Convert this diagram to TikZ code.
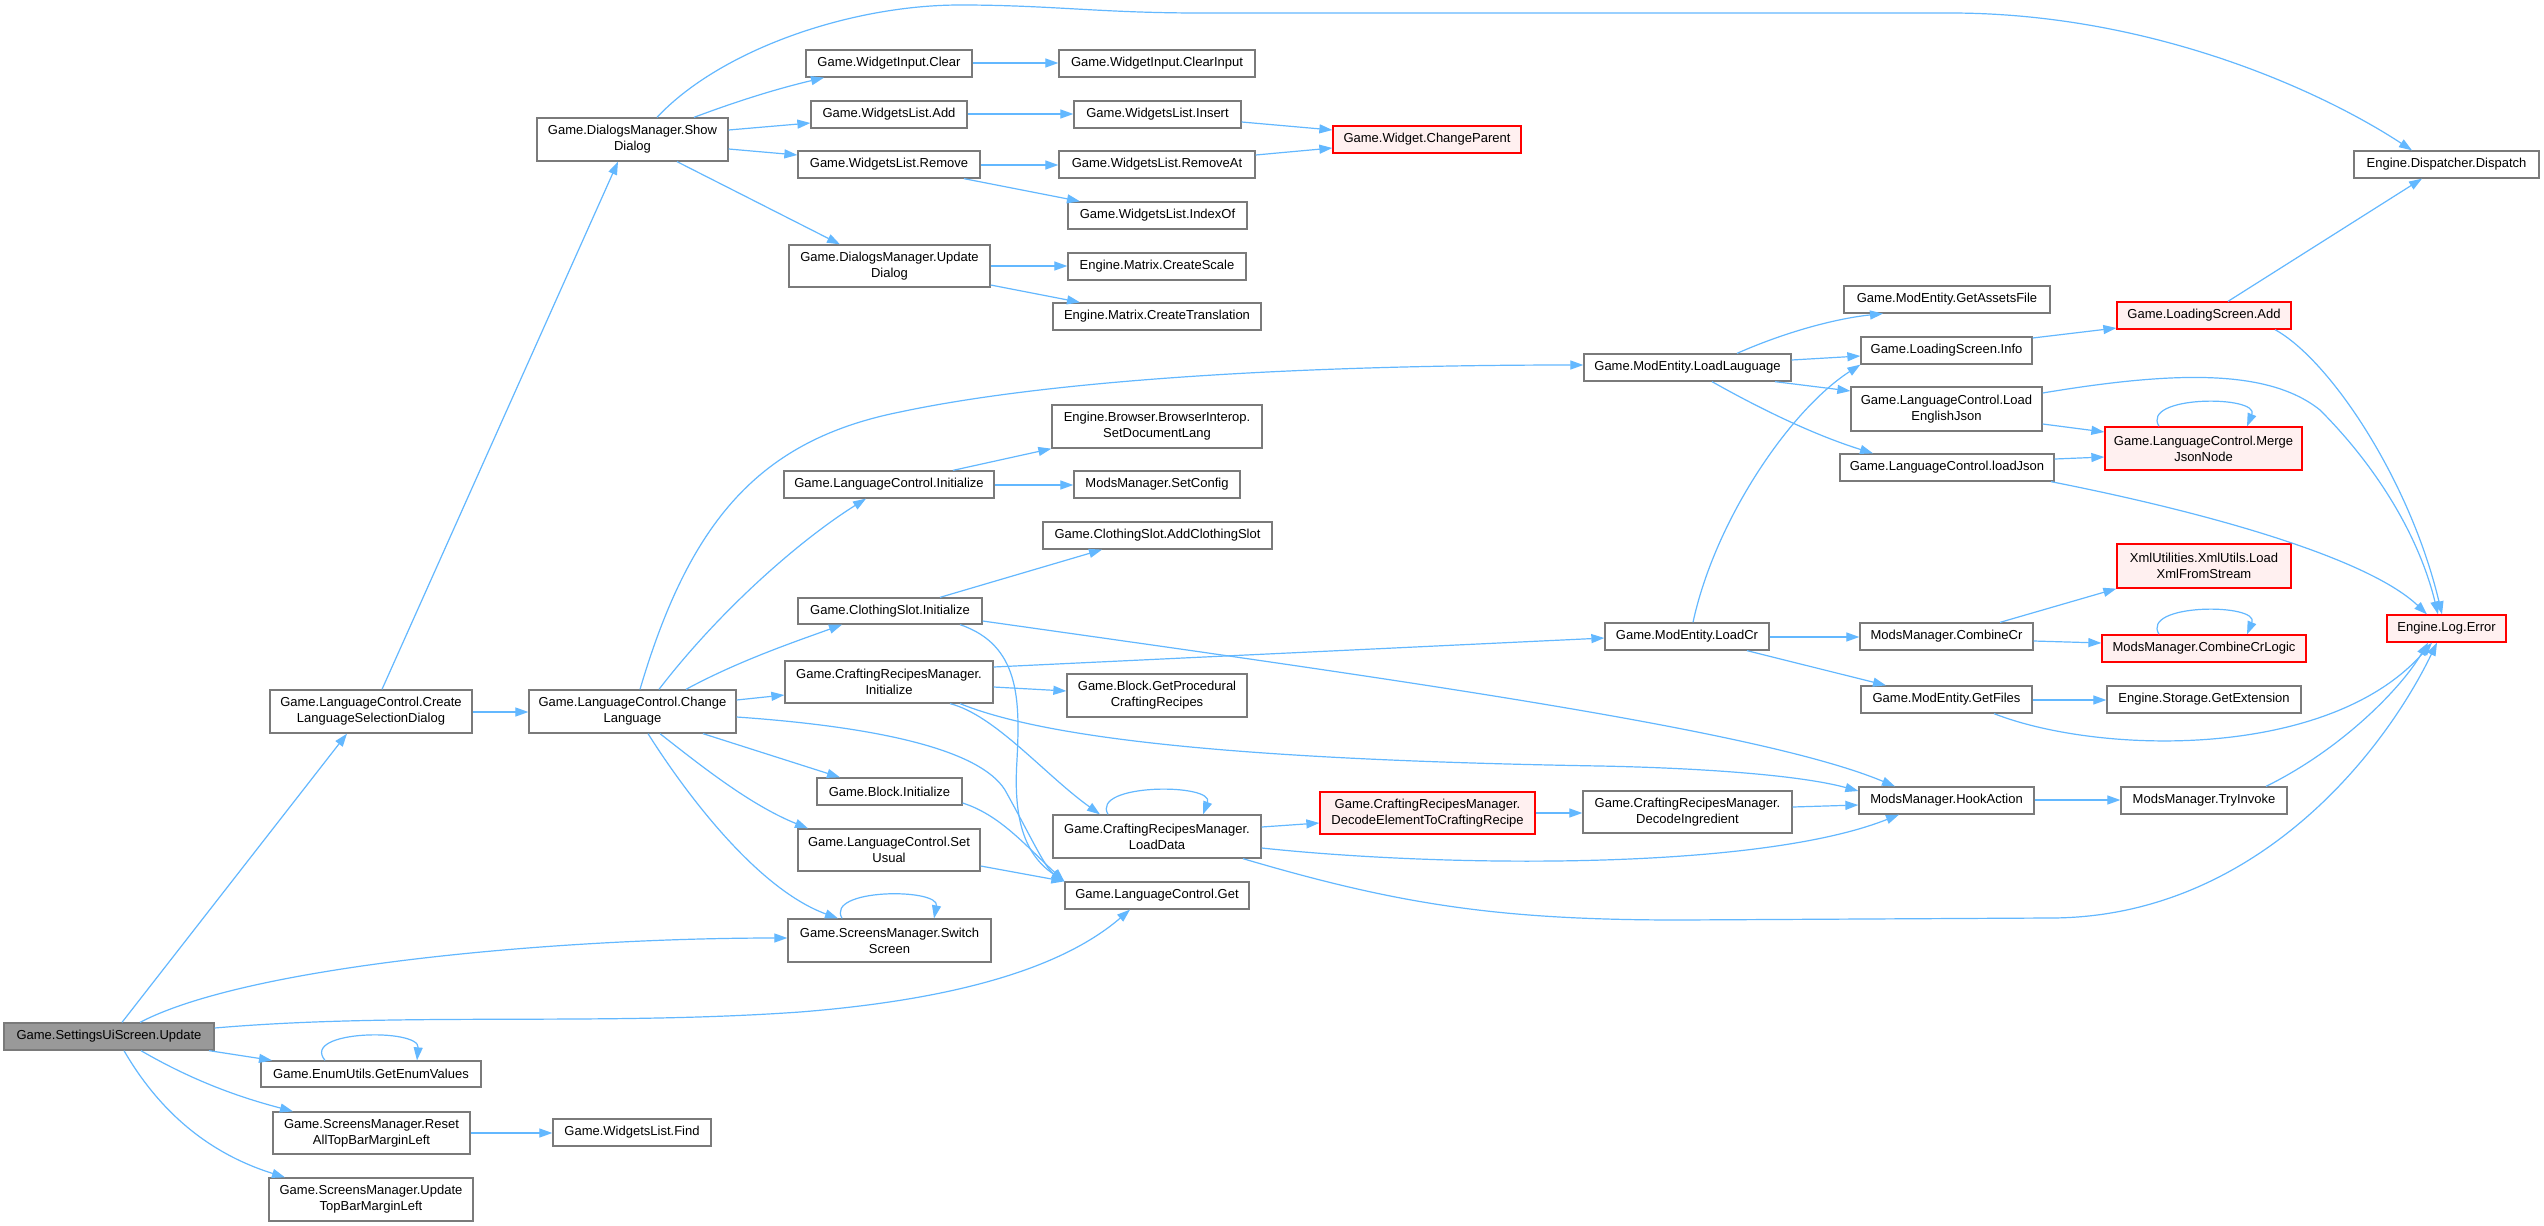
\documentclass[tikz,border=0pt]{standalone}
\usepackage{fontspec}
\setmainfont{Liberation Sans}
\usetikzlibrary{arrows.meta}
\definecolor{edgeblue}{HTML}{63B8FF}
\definecolor{boxgray}{HTML}{7A7A7A}
\definecolor{rootfill}{HTML}{999999}
\definecolor{redfill}{HTML}{FFF0F0}
\tikzset{
  fn/.style={draw=boxgray, line width=1.3pt, fill=white, inner sep=0pt, align=center, font=\fontsize{13}{16}\selectfont},
  rootfn/.style={fn, fill=rootfill},
  redfn/.style={fn, draw=red, fill=redfill},
  e/.style={draw=edgeblue, line width=1.2pt, -{Triangle[length=13pt,width=9pt]}},
}
\newcommand\mk[7]{\node[#1, minimum width={(#5-#3)*1pt}, minimum height={(#6-#4)*1pt}] (#2) at ({(#3+#5)/2},{(#4+#6)/2}) {#7};}
\begin{document}
\begin{tikzpicture}[x=1pt,y=-1pt]
\useasboundingbox (0,0) rectangle (2544,1226);
\fill[white] (0,0) rectangle (2544,1226);
% nodes
\mk{rootfn}{U}{4}{1023}{214}{1050}{Game.SettingsUiScreen.Update}
\mk{fn}{CLSD}{270}{690}{472}{733}{Game.LanguageControl.Create\\LanguageSelectionDialog}
\mk{fn}{EV}{261}{1061}{481}{1087}{Game.EnumUtils.GetEnumValues}
\mk{fn}{RA}{273}{1112}{470}{1154}{Game.ScreensManager.Reset\\AllTopBarMarginLeft}
\mk{fn}{UT}{269}{1178}{473}{1221}{Game.ScreensManager.Update\\TopBarMarginLeft}
\mk{fn}{FIND}{553}{1119}{711}{1146}{Game.WidgetsList.Find}
\mk{fn}{CL}{529}{690}{736}{733}{Game.LanguageControl.Change\\Language}
\mk{fn}{SD}{537}{118}{728}{161}{Game.DialogsManager.Show\\Dialog}
\mk{fn}{WIC}{806}{50}{972}{77}{Game.WidgetInput.Clear}
\mk{fn}{WICI}{1059}{50}{1255}{77}{Game.WidgetInput.ClearInput}
\mk{fn}{WLA}{811}{101}{967}{128}{Game.WidgetsList.Add}
\mk{fn}{WLI}{1074}{101}{1241}{128}{Game.WidgetsList.Insert}
\mk{redfn}{WCP}{1333}{126}{1521}{153}{Game.Widget.ChangeParent}
\mk{fn}{WLR}{798}{151}{980}{178}{Game.WidgetsList.Remove}
\mk{fn}{WLRA}{1059}{151}{1255}{178}{Game.WidgetsList.RemoveAt}
\mk{fn}{WLIO}{1068}{202}{1247}{229}{Game.WidgetsList.IndexOf}
\mk{fn}{UD}{789}{245}{990}{287}{Game.DialogsManager.Update\\Dialog}
\mk{fn}{MCS}{1068}{253}{1246}{280}{Engine.Matrix.CreateScale}
\mk{fn}{MCT}{1053}{303}{1261}{330}{Engine.Matrix.CreateTranslation}
\mk{fn}{DISP}{2354}{151}{2539}{178}{Engine.Dispatcher.Dispatch}
\mk{fn}{GAF}{1844}{286}{2050}{313}{Game.ModEntity.GetAssetsFile}
\mk{redfn}{LSA}{2117}{302}{2291}{329}{Game.LoadingScreen.Add}
\mk{fn}{LSI}{1861}{337}{2032}{364}{Game.LoadingScreen.Info}
\mk{fn}{LL}{1584}{354}{1791}{381}{Game.ModEntity.LoadLauguage}
\mk{fn}{LEJ}{1851}{387}{2042}{431}{Game.LanguageControl.Load\\EnglishJson}
\mk{redfn}{MJN}{2105}{427}{2302}{470}{Game.LanguageControl.Merge\\JsonNode}
\mk{fn}{LJ}{1840}{454}{2054}{481}{Game.LanguageControl.loadJson}
\mk{fn}{BSDL}{1052}{405}{1262}{448}{Engine.Browser.BrowserInterop.\\SetDocumentLang}
\mk{fn}{LCI}{784}{471}{994}{498}{Game.LanguageControl.Initialize}
\mk{fn}{SC}{1074}{471}{1240}{498}{ModsManager.SetConfig}
\mk{fn}{ACS}{1043}{522}{1272}{549}{Game.ClothingSlot.AddClothingSlot}
\mk{fn}{CSI}{798}{598}{982}{624}{Game.ClothingSlot.Initialize}
\mk{redfn}{XML}{2117}{544}{2291}{588}{XmlUtilities.XmlUtils.Load\\XmlFromStream}
\mk{fn}{LCR}{1605}{623}{1769}{650}{Game.ModEntity.LoadCr}
\mk{fn}{CCR}{1860}{623}{2033}{650}{ModsManager.CombineCr}
\mk{redfn}{CCL}{2102}{635}{2306}{662}{ModsManager.CombineCrLogic}
\mk{redfn}{LE}{2387}{615}{2506}{642}{Engine.Log.Error}
\mk{fn}{CRMI}{785}{661}{993}{703}{Game.CraftingRecipesManager.\\Initialize}
\mk{fn}{GPCR}{1067}{674}{1247}{717}{Game.Block.GetProcedural\\CraftingRecipes}
\mk{fn}{GF}{1861}{686}{2032}{713}{Game.ModEntity.GetFiles}
\mk{fn}{GE}{2107}{686}{2301}{713}{Engine.Storage.GetExtension}
\mk{fn}{BI}{817}{778}{962}{805}{Game.Block.Initialize}
\mk{fn}{HA}{1859}{787}{2034}{814}{ModsManager.HookAction}
\mk{fn}{TI}{2121}{787}{2287}{814}{ModsManager.TryInvoke}
\mk{redfn}{DETCR}{1320}{792}{1535}{834}{Game.CraftingRecipesManager.\\DecodeElementToCraftingRecipe}
\mk{fn}{DI}{1583}{791}{1792}{833}{Game.CraftingRecipesManager.\\DecodeIngredient}
\mk{fn}{LD}{1053}{815}{1261}{858}{Game.CraftingRecipesManager.\\LoadData}
\mk{fn}{SU}{798}{829}{980}{871}{Game.LanguageControl.Set\\Usual}
\mk{fn}{GET}{1065}{882}{1249}{909}{Game.LanguageControl.Get}
\mk{fn}{SS}{788}{919}{991}{962}{Game.ScreensManager.Switch\\Screen}
% edges from Update
\draw[e] (U.north -| 122,0) -- (CLSD.south -| 347,0);
\draw[e] (U.north -| 140,0) .. controls (250,965) and (560,938) .. (SS.west |- 0,938);
\draw[e] (U.east |- 0,1028) .. controls (400,1012) and (600,1026) .. (800,1012) .. controls (950,1000) and (1060,970) .. (GET.south -| 1130,0);
\draw[e] (U.south -| 209,0) -- (EV.north -| 272,0);
\draw[e] (U.south -| 141,0) .. controls (200,1085) and (250,1100) .. (RA.north -| 293,0);
\draw[e] (U.south -| 124,0) .. controls (170,1130) and (230,1160) .. (UT.north -| 285,0);
\draw[e] (EV.north -| 325,0) .. controls (300,1030) and (420,1028) .. (EV.north -| 417,0);
\draw[e] (RA.east |- 0,1133) -- (FIND.west |- 0,1133);
% CreateLanguageSelectionDialog
\draw[e] (CLSD.east |- 0,712) -- (CL.west |- 0,712);
\draw[e] (CLSD.north -| 382,0) -- (SD.south -| 618,0);
% ShowDialog
\draw[e] (SD.north -| 657,0) .. controls (720,50) and (850,5) .. (960,5) .. controls (1050,5) and (1100,13) .. (1200,13) -- (1950,13) .. controls (2150,13) and (2320,90) .. (DISP.north -| 2412,0);
\draw[e] (SD.north -| 694,0) .. controls (740,100) and (780,88) .. (WIC.south -| 824,0);
\draw[e] (SD.east |- 0,130) -- (WLA.west |- 0,123);
\draw[e] (SD.east |- 0,149) -- (WLR.west |- 0,155);
\draw[e] (SD.south -| 677,0) -- (UD.north -| 840,0);
\draw[e] (WIC.east |- 0,63) -- (WICI.west |- 0,63);
\draw[e] (WLA.east |- 0,114) -- (WLI.west |- 0,114);
\draw[e] (WLI.east |- 0,122) -- (WCP.west |- 0,130);
\draw[e] (WLRA.east |- 0,155) -- (WCP.west |- 0,148);
\draw[e] (WLR.east |- 0,165) -- (WLRA.west |- 0,165);
\draw[e] (WLR.south -| 964,0) -- (WLIO.north -| 1080,0);
\draw[e] (UD.east |- 0,266) -- (MCS.west |- 0,266);
\draw[e] (UD.east |- 0,285) -- (MCT.north -| 1080,0);
% ChangeLanguage
\draw[e] (CL.north -| 640,0) .. controls (690,520) and (760,440) .. (900,412) .. controls (1050,380) and (1300,365) .. (LL.west |- 0,365);
\draw[e] (CL.north -| 659,0) .. controls (720,610) and (800,540) .. (LCI.south -| 866,0);
\draw[e] (CL.north -| 686,0) .. controls (740,660) and (800,640) .. (CSI.south -| 842,0);
\draw[e] (CL.east |- 0,700) -- (CRMI.west |- 0,695);
\draw[e] (CL.east |- 0,717) .. controls (880,727) and (980,750) .. (1005,790) .. controls (1030,835) and (1045,868) .. (GET.north west);
\draw[e] (CL.south -| 703,0) -- (BI.north -| 840,0);
\draw[e] (CL.south -| 660,0) .. controls (700,765) and (750,805) .. (SU.north -| 808,0);
\draw[e] (CL.south -| 648,0) .. controls (690,800) and (760,890) .. (SS.north -| 838,0);
\draw[e] (SS.north -| 842,0) .. controls (825,888) and (940,888) .. (SS.north -| 934,0);
% LanguageControl.Initialize, ClothingSlot.Initialize
\draw[e] (LCI.north -| 953,0) -- (BSDL.south west);
\draw[e] (LCI.east |- 0,485) -- (SC.west |- 0,485);
\draw[e] (CSI.north -| 940,0) -- (ACS.south -| 1102,0);
\draw[e] (CSI.east |- 0,621) .. controls (1400,680) and (1760,730) .. (HA.north -| 1895,0);
\draw[e] (CSI.south -| 960,0) .. controls (1020,645) and (1020,700) .. (1017,760) .. controls (1013,820) and (1025,855) .. (GET.north west);
% CraftingRecipesManager.Initialize
\draw[e] (CRMI.east |- 0,667) -- (LCR.west |- 0,638);
\draw[e] (CRMI.east |- 0,687) -- (GPCR.west |- 0,691);
\draw[e] (CRMI.south -| 960,0) .. controls (1050,740) and (1250,760) .. (1600,766) .. controls (1700,768) and (1800,775) .. (HA.west |- 0,791);
\draw[e] (CRMI.south -| 950,0) .. controls (995,715) and (1045,775) .. (LD.north -| 1100,0);
\draw[e] (BI.east |- 0,803) .. controls (1000,815) and (1025,845) .. (GET.north west);
\draw[e] (SU.east |- 0,866) -- (GET.north west);
% LoadData
\draw[e] (LD.north -| 1108,0) .. controls (1090,783) and (1215,783) .. (LD.north -| 1203,0);
\draw[e] (LD.east |- 0,827) -- (DETCR.west |- 0,823);
\draw[e] (LD.east |- 0,848) .. controls (1450,868) and (1760,870) .. (HA.south -| 1899,0);
\draw[e] (LD.south -| 1243,0) .. controls (1400,905) and (1500,920) .. (1680,920) -- (2050,918) .. controls (2250,918) and (2380,760) .. (LE.south -| 2437,0);
\draw[e] (DETCR.east |- 0,813) -- (DI.west |- 0,813);
\draw[e] (DI.east |- 0,807) -- (HA.west |- 0,805);
\draw[e] (HA.east |- 0,800) -- (TI.west |- 0,800);
\draw[e] (TI.north -| 2266,0) .. controls (2340,750) and (2400,690) .. (LE.south -| 2428,0);
% ModEntity.LoadCr and friends
\draw[e] (GF.east |- 0,700) -- (GE.west |- 0,700);
\draw[e] (GF.south -| 1994,0) .. controls (2100,755) and (2330,760) .. (LE.south -| 2432,0);
\draw[e] (LCR.east |- 0,637) -- (CCR.west |- 0,637);
\draw[e] (LCR.south -| 1747,0) -- (GF.north -| 1886,0);
\draw[e] (LCR.north -| 1693,0) .. controls (1715,520) and (1790,410) .. (LSI.south west);
\draw[e] (CCR.north -| 2000,0) -- (XML.south west);
\draw[e] (CCR.east |- 0,641) -- (CCL.west |- 0,643);
\draw[e] (CCL.north -| 2159,0) .. controls (2140,603) and (2260,603) .. (CCL.north -| 2247,0);
\draw[e] (MJN.north -| 2159,0) .. controls (2140,395) and (2260,395) .. (MJN.north -| 2247,0);
\draw[e] (LEJ.east |- 0,424) -- (MJN.west |- 0,432);
\draw[e] (LJ.east |- 0,459) -- (MJN.west |- 0,457);
\draw[e] (LJ.south -| 2051,0) .. controls (2220,515) and (2370,560) .. (LE.north -| 2427,0);
\draw[e] (LEJ.east |- 0,393) .. controls (2180,370) and (2270,370) .. (2320,410) .. controls (2380,470) and (2420,540) .. (LE.north -| 2438,0);
\draw[e] (LSA.south -| 2275,0) .. controls (2330,360) and (2410,480) .. (LE.north -| 2442,0);
\draw[e] (LSA.north -| 2228,0) -- (DISP.south -| 2422,0);
\draw[e] (LSI.east |- 0,338) -- (LSA.west |- 0,328);
\draw[e] (LL.north -| 1737,0) .. controls (1790,330) and (1840,318) .. (GAF.south -| 1883,0);
\draw[e] (LL.east |- 0,360) -- (LSI.west |- 0,356);
\draw[e] (LL.south -| 1775,0) -- (LEJ.west |- 0,391);
\draw[e] (LL.south -| 1712,0) .. controls (1780,420) and (1830,440) .. (LJ.north -| 1873,0);
\end{tikzpicture}
\end{document}
